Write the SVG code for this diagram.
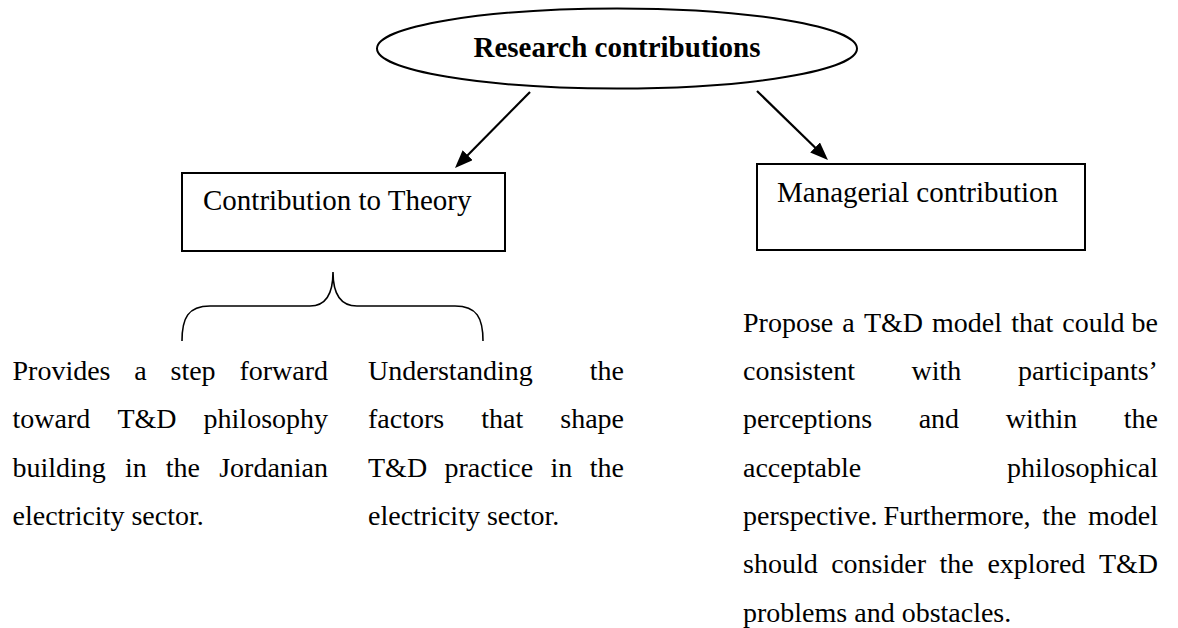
<svg xmlns="http://www.w3.org/2000/svg" width="1178" height="628" viewBox="0 0 1178 628">
  <style>
    text { font-family: "Liberation Serif", "Times New Roman", serif; fill: #000; }
    .title { font-size: 29px; font-weight: bold; }
    .label { font-size: 29px; }
    .body { font-size: 28px; }
    .shape { fill: #fff; stroke: #000; stroke-width: 2; }
    .link { fill: none; stroke: #000; stroke-width: 2.2; }
    .brace { fill: none; stroke: #000; stroke-width: 1.6; }
  </style>
  <defs>
    <marker id="arrow" markerUnits="userSpaceOnUse" markerWidth="18" markerHeight="14" refX="14" refY="7" orient="auto">
      <path d="M0,0 L18,7 L0,14 z" fill="#000"/>
    </marker>
  </defs>
  <rect width="1178" height="628" fill="#fff"/>

  <!-- root ellipse -->
  <g id="research-contributions">
    <ellipse class="shape" cx="617" cy="48.5" rx="240" ry="40"/>
    <text class="title" x="617" y="57" text-anchor="middle">Research contributions</text>
  </g>

  <!-- connectors -->
  <g id="connectors">
    <path class="link" d="M530,92 L457.8,165.2" marker-end="url(#arrow)"/>
    <path class="link" d="M757,91 L825.1,157.2" marker-end="url(#arrow)"/>
    <path class="brace" d="M182,341 C182,318 188,306 210,306 L310,306 C326,306 333,294 333,272 C333,294 340,306 357,306 L455,306 C477,306 483,318 483,341"/>
  </g>

  <!-- theory box -->
  <g id="contribution-to-theory">
    <rect class="shape" x="182" y="173" width="323" height="78"/>
    <text class="label" x="203" y="210">Contribution to Theory</text>
  </g>

  <!-- managerial box -->
  <g id="managerial-contribution">
    <rect class="shape" x="757" y="164" width="328" height="86"/>
    <text class="label" x="777" y="202">Managerial contribution</text>
  </g>

  <!-- theory item 1 (justified) -->
  <g id="theory-item-1" class="body">
    <text class="body" y="380"><tspan x="12.5">Provides</tspan><tspan x="134.3">a</tspan><tspan x="170.5">step</tspan><tspan x="239.4">forward</tspan></text>
    <text class="body" y="428.3"><tspan x="12.5">toward</tspan><tspan x="117.4">T&amp;D</tspan><tspan x="203.6">philosophy</tspan></text>
    <text class="body" y="476.6"><tspan x="12.5">building</tspan><tspan x="125">in</tspan><tspan x="165.8">the</tspan><tspan x="219.2">Jordanian</tspan></text>
    <text class="body" x="12.5" y="525">electricity sector.</text>
  </g>

  <!-- theory item 2 (justified) -->
  <g id="theory-item-2">
    <text class="body" y="380"><tspan x="368">Understanding</tspan><tspan x="589.8">the</tspan></text>
    <text class="body" y="428.3"><tspan x="368">factors</tspan><tspan x="481.2">that</tspan><tspan x="560.3">shape</tspan></text>
    <text class="body" y="476.6"><tspan x="368">T&amp;D</tspan><tspan x="444.5">practice</tspan><tspan x="550.6">in</tspan><tspan x="589.8">the</tspan></text>
    <text class="body" x="368" y="525">electricity sector.</text>
  </g>

  <!-- managerial item (justified) -->
  <g id="managerial-item">
    <text class="body" y="331.7"><tspan x="743">Propose</tspan><tspan x="842.3">a</tspan><tspan x="863.9">T&amp;D</tspan><tspan x="932.1">model</tspan><tspan x="1011.2">that</tspan><tspan x="1062.3">could</tspan><tspan x="1131.6">be</tspan></text>
    <text class="body" y="380"><tspan x="743">consistent</tspan><tspan x="911.6">with</tspan><tspan x="1018">participants’</tspan></text>
    <text class="body" y="428.3"><tspan x="743">perceptions</tspan><tspan x="918.7">and</tspan><tspan x="1005.7">within</tspan><tspan x="1123.8">the</tspan></text>
    <text class="body" y="476.6"><tspan x="743">acceptable</tspan><tspan x="1007.1">philosophical</tspan></text>
    <text class="body" y="525"><tspan x="743">perspective.</tspan><tspan x="883.6">Furthermore,</tspan><tspan x="1042.2">the</tspan><tspan x="1088">model</tspan></text>
    <text class="body" y="573.3"><tspan x="743">should</tspan><tspan x="831.2">consider</tspan><tspan x="939.6">the</tspan><tspan x="987.4">explored</tspan><tspan x="1098.9">T&amp;D</tspan></text>
    <text class="body" x="743" y="621.6">problems and obstacles.</text>
  </g>
</svg>
